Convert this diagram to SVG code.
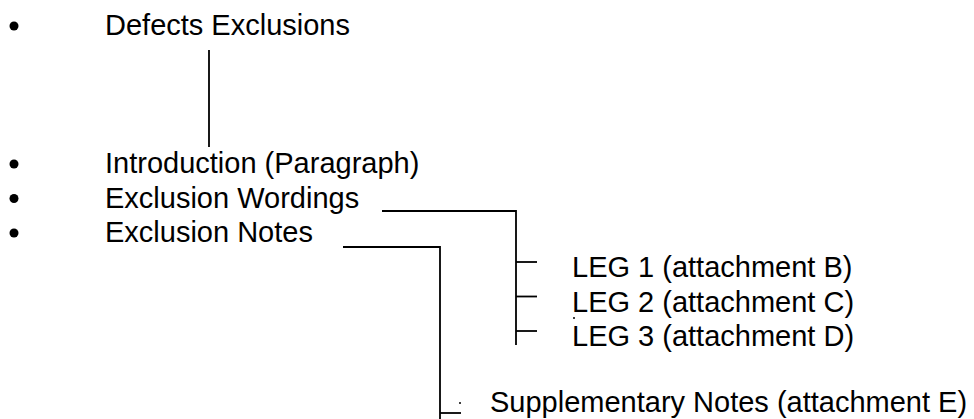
<svg xmlns="http://www.w3.org/2000/svg" width="974" height="419" viewBox="0 0 974 419">
<style>
  .t { font-family: "Liberation Sans", Arial, sans-serif; font-size: 29px; fill: #000; }
  .b { fill: #000; }
  .c { stroke: #000; stroke-width: 1.8; fill: none; }
</style>
<rect width="974" height="419" fill="#fff"/>
<g id="node-defects">
  <circle class="b" cx="14" cy="26" r="4.5"/>
  <text class="t" x="105" y="35">Defects Exclusions</text>
</g>
<g id="node-intro">
  <circle class="b" cx="14" cy="164" r="4.5"/>
  <text class="t" x="105" y="173">Introduction (Paragraph)</text>
</g>
<g id="node-wordings">
  <circle class="b" cx="14" cy="198.5" r="4.5"/>
  <text class="t" x="105" y="207.5">Exclusion Wordings</text>
</g>
<g id="node-notes">
  <circle class="b" cx="14" cy="233" r="4.5"/>
  <text class="t" x="105" y="242">Exclusion Notes</text>
</g>
<g id="node-leg1">
  <text class="t" x="572" y="277">LEG 1 (attachment B)</text>
</g>
<g id="node-leg2">
  <text class="t" x="572" y="311.5">LEG 2 (attachment C)</text>
</g>
<g id="node-leg3">
  <circle class="b" cx="574" cy="318" r="1"/>
  <text class="t" x="572" y="346">LEG 3 (attachment D)</text>
</g>
<g id="node-supplementary">
  <text class="t" x="490" y="412">Supplementary Notes (attachment E)</text>
</g>
<g id="connectors">
  <line class="c" x1="209" y1="50" x2="209" y2="147"/>
  <polyline class="c" points="382,211 516,211 516,345"/>
  <line class="c" x1="516" y1="262" x2="537" y2="262"/>
  <line class="c" x1="516" y1="296.5" x2="537" y2="296.5"/>
  <line class="c" x1="516" y1="331" x2="537" y2="331"/>
  <polyline class="c" points="343,247 440,247 440,419"/>
  <line class="c" x1="440" y1="413" x2="461" y2="413"/>
  <circle class="b" cx="460" cy="403" r="1"/>
</g>
</svg>
